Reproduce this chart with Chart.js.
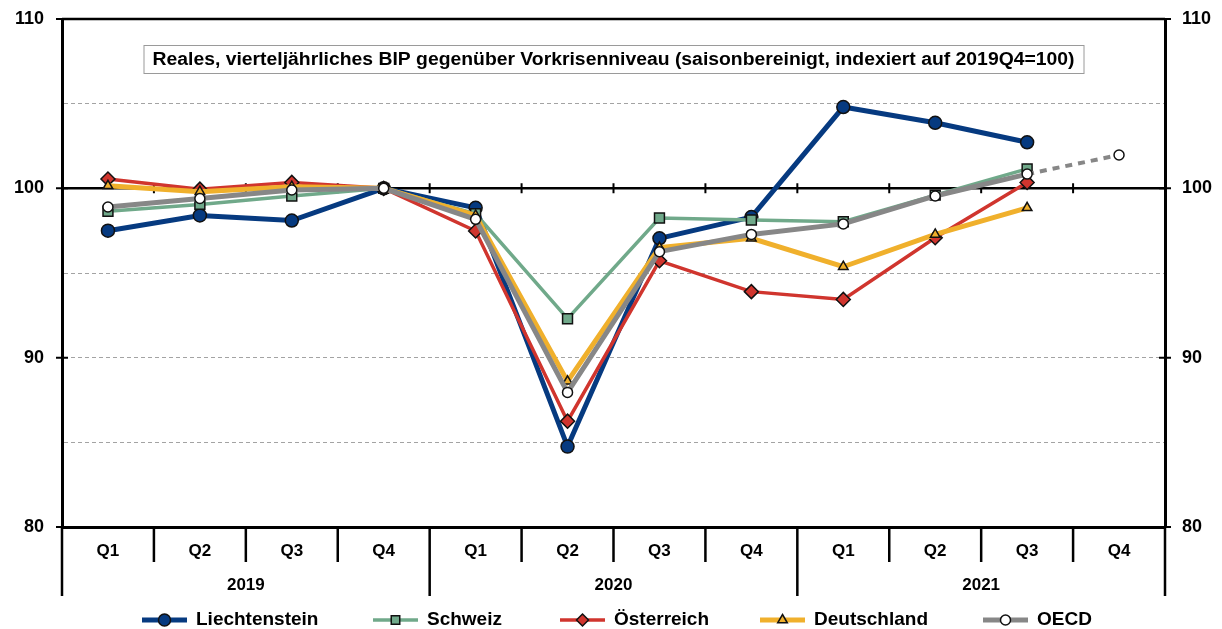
<!DOCTYPE html>
<html>
<head>
<meta charset="utf-8">
<script src="https://cdn.jsdelivr.net/npm/chart.js@4/dist/chart.umd.min.js"></script>
<style>
  html, body { margin: 0; padding: 0; background: #fff; }
  #wrap { width: 1222px; height: 629px; }
</style>
</head>
<body>
<div id="wrap"><canvas id="bip" width="1222" height="629"></canvas></div>
<script>
// Data
const quarters = ['Q1', 'Q2', 'Q3', 'Q4', 'Q1', 'Q2', 'Q3', 'Q4', 'Q1', 'Q2', 'Q3', 'Q4'];
const years = ['2019', '2020', '2021'];
const yTickLabels = [80, 90, 100, 110];

const liechtenstein = [97.5, 98.4, 98.1, 100, 98.85, 84.75, 97.05, 98.3, 104.8, 103.87, 102.72, null];
const schweiz = [98.65, 99.05, 99.55, 100, 98.5, 92.3, 98.25, 98.13, 98.03, 99.6, 101.15, null];
const oesterreich = [100.55, 99.95, 100.35, 100, 97.48, 86.25, 95.72, 93.9, 93.44, 97.08, 100.35, null];
const deutschland = [100.15, 99.8, 100.1, 100, 98.4, 88.6, 96.5, 97.05, 95.37, 97.28, 98.85, null];
const oecd = [98.9, 99.4, 99.9, 100, 98.17, 87.95, 96.26, 97.28, 97.9, 99.55, 100.84, 101.97];

const TITLE = 'Reales, vierteljährliches BIP gegenüber Vorkrisenniveau (saisonbereinigt, indexiert auf 2019Q4=100)';
const FONT = "'Liberation Sans', Arial, sans-serif";

// Series styles (legend order)
const seriesList = [
  { label: 'Liechtenstein', data: liechtenstein, color: '#063a80', width: 5, style: 'circle', radius: 6.5, fill: '#063a80', legendX: 142 },
  { label: 'Schweiz', data: schweiz, color: '#70a98a', width: 3.5, style: 'rect', radius: 7, fill: '#70a98a', legendX: 373 },
  { label: 'Österreich', data: oesterreich, color: '#d0352e', width: 3.5, style: 'rectRot', radius: 7, fill: '#d0352e', legendX: 560 },
  { label: 'Deutschland', data: deutschland, color: '#f0b02c', width: 5, style: 'triangle', radius: 5.5, fill: '#f0b02c', legendX: 760 },
  { label: 'OECD', data: oecd, color: '#878787', width: 5, style: 'circle', radius: 5, fill: '#ffffff', legendX: 983 }
];

const datasets = seriesList.map((s, i) => ({
  label: s.label,
  data: s.data,
  borderColor: s.color,
  borderWidth: s.width,
  pointStyle: s.style,
  pointRadius: s.radius,
  pointBackgroundColor: s.fill,
  pointBorderColor: '#111',
  pointBorderWidth: 1.5,
  tension: 0,
  order: seriesList.length - i, // later series on top
  segment: {
    borderDash: ctx => ctx.p1DataIndex === 11 ? [7, 6] : undefined,
    borderWidth: ctx => ctx.p1DataIndex === 11 ? 4 : undefined
  }
}));

function drawMarker(ctx, style, r, x, y) {
  ctx.beginPath();
  if (style === 'circle') {
    ctx.arc(x, y, r, 0, Math.PI * 2);
  } else if (style === 'rect') {
    const h = r * Math.SQRT1_2;
    ctx.rect(x - h, y - h, 2 * h, 2 * h);
  } else if (style === 'rectRot') {
    ctx.moveTo(x, y - r); ctx.lineTo(x + r, y); ctx.lineTo(x, y + r); ctx.lineTo(x - r, y);
    ctx.closePath();
  } else if (style === 'triangle') {
    ctx.moveTo(x, y - r); ctx.lineTo(x + r * 0.87, y + r * 0.5); ctx.lineTo(x - r * 0.87, y + r * 0.5);
    ctx.closePath();
  }
  ctx.fill();
  ctx.stroke();
}

// Category boundaries (between quarter centres)
function boundaries(x) {
  const out = [];
  const step = x.getPixelForValue(1) - x.getPixelForValue(0);
  for (let i = 0; i <= quarters.length; i++) {
    out.push(x.getPixelForValue(0) - step / 2 + i * step);
  }
  return out;
}

const decorPlugin = {
  id: 'decor',
  beforeDatasetsDraw(chart) {
    const { ctx, chartArea: a, scales: { x, y } } = chart;
    const y100 = y.getPixelForValue(100);
    ctx.save();
    ctx.strokeStyle = '#000';
    ctx.lineWidth = 2.5;
    ctx.beginPath();
    ctx.moveTo(a.left, y100); ctx.lineTo(a.right, y100);
    ctx.moveTo(a.left, a.top); ctx.lineTo(a.right, a.top);
    ctx.stroke();

    // ticks on the 100 line
    ctx.lineWidth = 2;
    ctx.beginPath();
    boundaries(x).slice(1, -1).forEach(px => {
      ctx.moveTo(px, y100 - 5); ctx.lineTo(px, y100 + 5);
    });
    // axis ticks crossing both y axes
    yTickLabels.forEach(v => {
      const py = y.getPixelForValue(v);
      ctx.moveTo(a.left - 6, py); ctx.lineTo(a.left + 6, py);
      ctx.moveTo(a.right - 6, py); ctx.lineTo(a.right + 6, py);
    });
    ctx.stroke();
    ctx.restore();
  },
  afterDraw(chart) {
    const { ctx, chartArea: a, scales: { x } } = chart;
    const b = boundaries(x);
    ctx.save();

    // separators under the axis
    ctx.strokeStyle = '#000';
    ctx.lineWidth = 2.5;
    ctx.beginPath();
    b.forEach((px, i) => {
      ctx.moveTo(px, a.bottom);
      ctx.lineTo(px, i % 4 === 0 ? a.bottom + 69 : a.bottom + 35);
    });
    ctx.stroke();

    ctx.fillStyle = '#000';
    ctx.textAlign = 'center';
    ctx.textBaseline = 'middle';
    ctx.font = `bold 17px ${FONT}`;
    quarters.forEach((q, i) => ctx.fillText(q, x.getPixelForValue(i), a.bottom + 24));
    years.forEach((yr, k) => ctx.fillText(yr, (b[k * 4] + b[k * 4 + 4]) / 2, a.bottom + 58));

    // title box
    const cx = (a.left + a.right) / 2;
    ctx.fillStyle = '#fff';
    ctx.strokeStyle = '#9a9a9a';
    ctx.lineWidth = 1;
    ctx.fillRect(cx - 470, 45, 940, 28);
    ctx.strokeRect(cx - 470 + 0.5, 45.5, 940, 28);
    ctx.font = `bold 18px ${FONT}`;
    const tw = ctx.measureText(TITLE).width;
    ctx.save();
    ctx.translate(cx, 60);
    ctx.scale(922 / tw, 1);
    ctx.fillStyle = '#000';
    ctx.fillText(TITLE, 0, 0);
    ctx.restore();

    // legend
    const ly = 620;
    ctx.font = `bold 19px ${FONT}`;
    ctx.textAlign = 'left';
    seriesList.forEach(s => {
      ctx.strokeStyle = s.color;
      ctx.lineWidth = s.width;
      ctx.beginPath();
      ctx.moveTo(s.legendX, ly); ctx.lineTo(s.legendX + 45, ly);
      ctx.stroke();
      ctx.fillStyle = s.fill;
      ctx.strokeStyle = '#111';
      ctx.lineWidth = 1.5;
      drawMarker(ctx, s.style, Math.min(s.radius, 6), s.legendX + 22.5, ly);
      ctx.fillStyle = '#000';
      ctx.fillText(s.label, s.legendX + 54, ly);
    });
    ctx.restore();
  }
};

function yAxis(position, width, padding) {
  return {
    position,
    min: 80,
    max: 110,
    ticks: {
      stepSize: 5,
      autoSkip: false,
      padding,
      color: '#000',
      font: { family: FONT, size: 18, weight: 'bold' },
      callback: v => yTickLabels.includes(v) ? v : ''
    },
    grid: {
      drawOnChartArea: position === 'left',
      color: ctx => [85, 90, 95, 105].includes(ctx.tick.value) ? '#a3a3a3' : 'transparent',
      tickColor: 'transparent',
      tickLength: 6,
      lineWidth: 1
    },
    border: { color: '#000', width: 3, dash: [4, 3] },
    afterFit: s => {
      s.width = width;
      s.paddingTop = 0;
      s.paddingBottom = 0;
    }
  };
}

new Chart(document.getElementById('bip'), {
  type: 'line',
  data: { labels: quarters, datasets },
  options: {
    responsive: false,
    animation: false,
    layout: { padding: { top: 19, left: 0, right: 0, bottom: 0 } },
    plugins: { legend: { display: false }, tooltip: { enabled: false } },
    scales: {
      x: {
        offset: true,
        ticks: { display: false },
        grid: { display: false },
        border: { color: '#000', width: 3 },
        afterFit: s => { s.height = 102; }
      },
      y: yAxis('left', 62, 12),
      y2: yAxis('right', 57, 11)
    }
  },
  plugins: [decorPlugin]
});
</script>
</body>
</html>
